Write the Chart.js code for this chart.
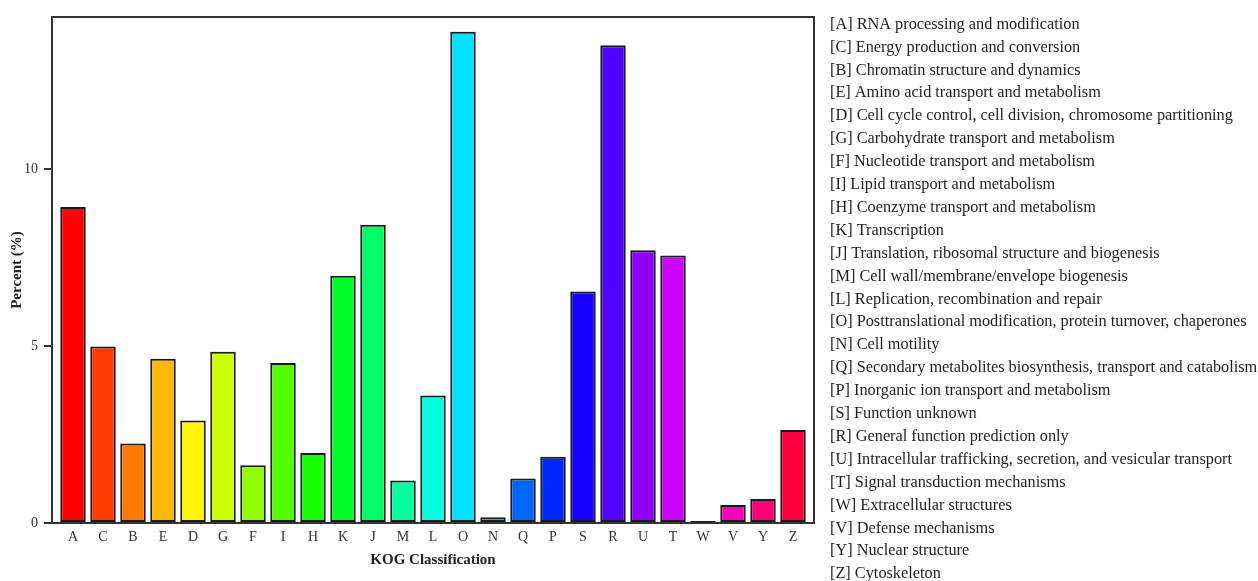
<!DOCTYPE html>
<html>
<head>
<meta charset="utf-8">
<script src="https://cdn.jsdelivr.net/npm/chart.js@4.4.1/dist/chart.umd.min.js"></script>
<style>
  html, body { margin: 0; padding: 0; background: #ffffff; }
  #wrap { width: 1258px; height: 581px; position: relative; }
</style>
</head>
<body>
<div id="wrap"><canvas id="c" width="1258" height="581"></canvas></div>
<script>
const categories = ["A","C","B","E","D","G","F","I","H","K","J","M","L","O","N","Q","P","S","R","U","T","W","V","Y","Z"];
const percentValues = [8.93,4.99,2.25,4.64,2.90,4.84,1.63,4.52,1.98,6.99,8.43,1.20,3.60,13.88,0.16,1.26,1.87,6.54,13.50,7.71,7.56,0.06,0.51,0.68,2.63];
const descriptions = [
  "RNA processing and modification",
  "Energy production and conversion",
  "Chromatin structure and dynamics",
  "Amino acid transport and metabolism",
  "Cell cycle control, cell division, chromosome partitioning",
  "Carbohydrate transport and metabolism",
  "Nucleotide transport and metabolism",
  "Lipid transport and metabolism",
  "Coenzyme transport and metabolism",
  "Transcription",
  "Translation, ribosomal structure and biogenesis",
  "Cell wall/membrane/envelope biogenesis",
  "Replication, recombination and repair",
  "Posttranslational modification, protein turnover, chaperones",
  "Cell motility",
  "Secondary metabolites biosynthesis, transport and catabolism",
  "Inorganic ion transport and metabolism",
  "Function unknown",
  "General function prediction only",
  "Intracellular trafficking, secretion, and vesicular transport",
  "Signal transduction mechanisms",
  "Extracellular structures",
  "Defense mechanisms",
  "Nuclear structure",
  "Cytoskeleton"
];
const yTickValues = [0, 5, 10];
const yMax = 14.3;

const SERIF = "'Liberation Serif', 'DejaVu Serif', serif";
const barColors = categories.map((_, i) => `hsl(${(i * 360 / categories.length).toFixed(1)}, 100%, 50%)`);
const points = categories.map((c, i) => ({ x: i, y: percentValues[i] }));

const boxPlugin = {
  id: 'boxPlugin',
  afterDraw(chart) {
    const ctx = chart.ctx;
    const a = chart.chartArea;
    ctx.save();
    ctx.strokeStyle = '#333333';
    ctx.lineWidth = 2;
    ctx.beginPath();
    ctx.moveTo(a.left, a.top);
    ctx.lineTo(a.right, a.top);
    ctx.lineTo(a.right, a.bottom);
    ctx.stroke();
    // legend text
    ctx.fillStyle = '#1e1e1e';
    ctx.font = "16.3px " + SERIF;
    ctx.textBaseline = 'middle';
    ctx.textAlign = 'left';
    const x0 = a.right + 16;
    categories.forEach((c, i) => {
      ctx.fillText('[' + c + '] ' + descriptions[i], x0, 24.5 + i * 22.9);
    });
    ctx.restore();
  }
};

new Chart(document.getElementById('c'), {
  type: 'bar',
  data: {
    datasets: [{
      data: points,
      backgroundColor: barColors,
      borderColor: '#1a1a1a',
      borderWidth: 2,
      borderSkipped: false,
      barPercentage: 0.85,
      categoryPercentage: 1.0
    }]
  },
  options: {
    responsive: false,
    animation: false,
    devicePixelRatio: 1,
    layout: { padding: { left: 8, top: 17, right: 444, bottom: 12 } },
    plugins: {
      legend: { display: false },
      tooltip: { enabled: false }
    },
    scales: {
      x: {
        type: 'linear',
        offset: false,
        min: -0.7,
        max: categories.length - 1 + 0.7,
        afterBuildTicks(scale) {
          scale.ticks = categories.map((c, i) => ({ value: i }));
        },
        afterFit(scale) {
          scale.height = 46;
        },
        ticks: {
          autoSkip: false,
          maxRotation: 0,
          padding: 6,
          color: '#333333',
          font: { family: SERIF, size: 14 },
          callback: (v) => categories[v]
        },
        grid: { display: false, drawTicks: false, offset: false },
        border: { display: true, color: '#333333', width: 2 },
        title: {
          display: true,
          text: 'KOG Classification',
          color: '#222222',
          font: { family: SERIF, size: 15, weight: 'bold' },
          padding: { top: 0, bottom: 0 }
        }
      },
      y: {
        min: 0,
        max: yMax,
        afterBuildTicks(scale) {
          scale.ticks = yTickValues.map(v => ({ value: v }));
        },
        afterFit(scale) {
          scale.width = 44;
        },
        ticks: {
          padding: 6,
          color: '#333333',
          font: { family: SERIF, size: 14 }
        },
        grid: { display: true, drawOnChartArea: false, drawTicks: true, tickLength: 8, color: '#333333', lineWidth: 2 },
        border: { display: true, color: '#333333', width: 2 },
        title: {
          display: true,
          text: 'Percent (%)',
          color: '#222222',
          font: { family: SERIF, size: 15, weight: 'bold' },
          padding: { top: 0, bottom: 0 }
        }
      }
    }
  },
  plugins: [boxPlugin]
});
</script>
</body>
</html>
